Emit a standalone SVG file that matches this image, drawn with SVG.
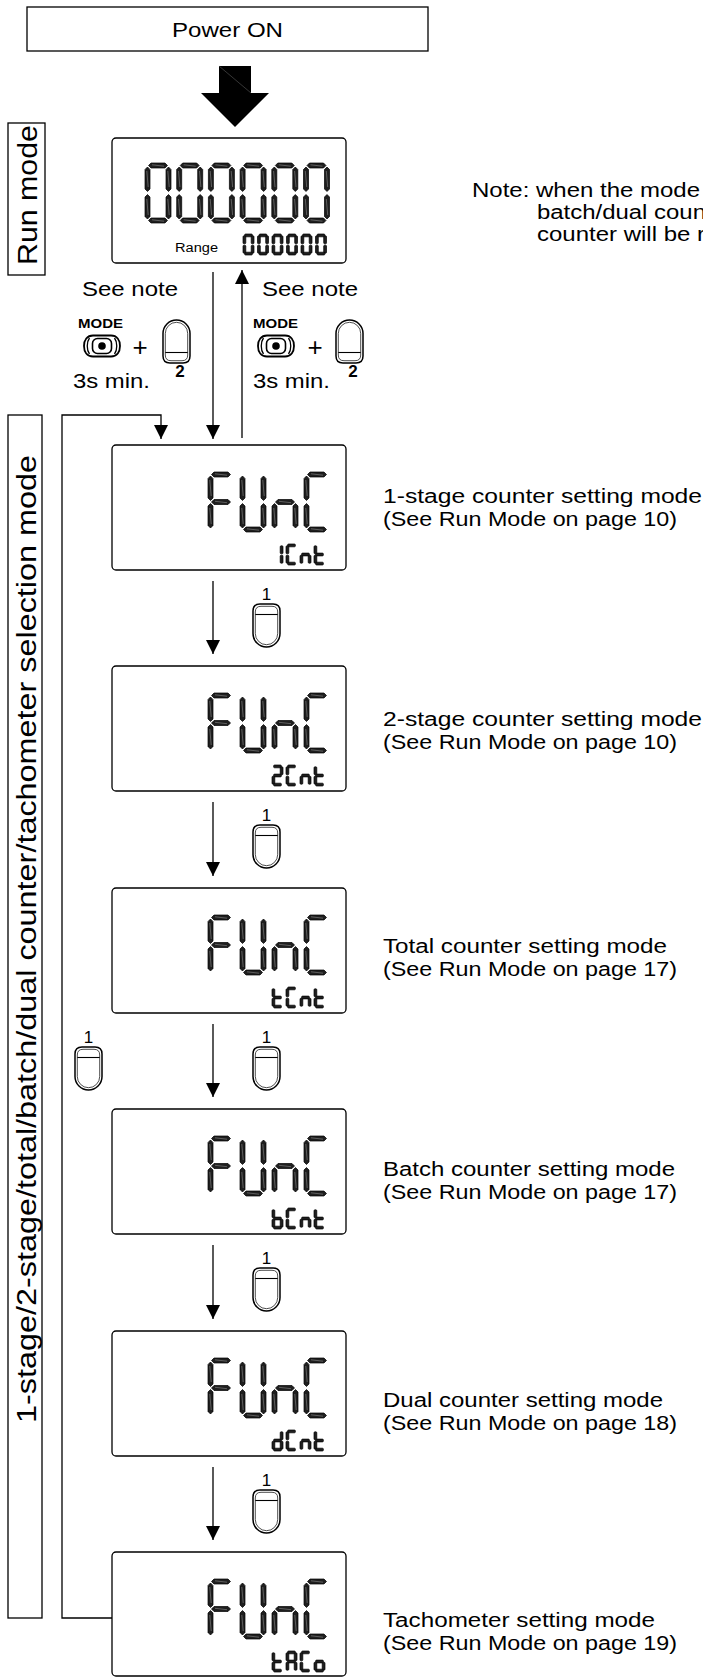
<svg xmlns="http://www.w3.org/2000/svg" width="703" height="1677" viewBox="0 0 703 1677">
<style>
 text{font-family:"Liberation Sans",Arial,sans-serif;fill:#000}
 .t20{font-size:20px}
 .box{fill:#fff;stroke:#000;stroke-width:1.3}
 .lcd{fill:#fff;stroke:#000;stroke-width:1.3}
 .seg{fill:#1f1f1f;stroke:#000;stroke-width:0.7;stroke-linejoin:round}
 .hl{fill:none;stroke:#8a8a8a;stroke-width:0.6}
 .con{fill:none;stroke:#000;stroke-width:1.3}
 .arr{fill:none;stroke:#000;stroke-width:1.3;marker-end:url(#ah)}
 .key{fill:#fff;stroke:#000;stroke-width:1.5}
 .keyin{fill:none;stroke:#000;stroke-width:0.7}
 .num{font-size:17px;text-anchor:middle}
 .b2{font-size:17px;font-weight:bold;text-anchor:middle}
 .mode{font-size:13px;font-weight:bold}
 .plus{font-size:26px;text-anchor:middle}
</style>
<defs>
 <marker id="ah" viewBox="0 0 14 14" refX="14" refY="7" markerWidth="14" markerHeight="14" markerUnits="userSpaceOnUse" orient="auto"><path d="M0,0 L14,7 L0,14 Z" fill="#000"/></marker>
 <g id="Ba"><polygon class="seg" points="3.5,2.5 6,0 20,0 22.5,2.5 20,5 6,5"/><line class="hl" x1="7" y1="1.8" x2="19" y2="3.2"/></g>
 <g id="Bg"><polygon class="seg" points="3.5,30 6,27.5 20,27.5 22.5,30 20,32.5 6,32.5"/><line class="hl" x1="7" y1="29.3" x2="19" y2="30.7"/></g>
 <g id="Bd"><polygon class="seg" points="3.5,57.5 6,55 20,55 22.5,57.5 20,60 6,60"/><line class="hl" x1="7" y1="56.8" x2="19" y2="58.2"/></g>
 <g id="Bf"><polygon class="seg" points="2.5,4 5,6.5 5,26 2.5,28.5 0,26 0,6.5"/><line class="hl" x1="1.8" y1="8" x2="3.2" y2="24"/></g>
 <g id="Bb"><polygon class="seg" points="23.5,4 26,6.5 26,26 23.5,28.5 21,26 21,6.5"/><line class="hl" x1="22.8" y1="8" x2="24.2" y2="24"/></g>
 <g id="Be"><polygon class="seg" points="2.5,31.5 5,34 5,53.5 2.5,56 0,53.5 0,34"/><line class="hl" x1="1.8" y1="36" x2="3.2" y2="52"/></g>
 <g id="Bc"><polygon class="seg" points="23.5,31.5 26,34 26,53.5 23.5,56 21,53.5 21,34"/><line class="hl" x1="22.8" y1="36" x2="24.2" y2="52"/></g>
 <g id="B0"><use href="#Ba"/><use href="#Bb"/><use href="#Bc"/><use href="#Bd"/><use href="#Be"/><use href="#Bf"/></g>
 <g id="BF"><use href="#Ba"/><use href="#Bf"/><use href="#Bg"/><use href="#Be"/></g>
 <g id="BU"><use href="#Bb"/><use href="#Bc"/><use href="#Bd"/><use href="#Be"/><use href="#Bf"/></g>
 <g id="Bn"><use href="#Bc"/><use href="#Be"/><use href="#Bg"/></g>
 <g id="BC"><use href="#Ba"/><use href="#Bf"/><use href="#Be"/><use href="#Bd"/></g>
 <g id="FUNC"><use href="#BF" x="0"/><use href="#BU" x="32"/><use href="#Bn" x="64"/><use href="#BC" x="96"/></g>
 <rect id="sa" class="seg" x="1.6" y="0" width="7.8" height="2.8" rx="1"/>
 <rect id="sg" class="seg" x="1.6" y="9.1" width="7.8" height="2.8" rx="1"/>
 <rect id="sd" class="seg" x="1.6" y="18.2" width="7.8" height="2.8" rx="1"/>
 <rect id="sf" class="seg" x="0" y="1.8" width="2.8" height="8" rx="1"/>
 <rect id="sb" class="seg" x="8.2" y="1.8" width="2.8" height="8" rx="1"/>
 <rect id="se" class="seg" x="0" y="11.2" width="2.8" height="8" rx="1"/>
 <rect id="sc" class="seg" x="8.2" y="11.2" width="2.8" height="8" rx="1"/>
 <g id="s0"><use href="#sa"/><use href="#sb"/><use href="#sc"/><use href="#sd"/><use href="#se"/><use href="#sf"/></g>
 <g id="s1"><use href="#sb"/><use href="#sc"/></g>
 <g id="s2"><use href="#sa"/><use href="#sb"/><use href="#sg"/><use href="#se"/><use href="#sd"/></g>
 <g id="sC"><use href="#sa"/><use href="#sf"/><use href="#se"/><use href="#sd"/></g>
 <g id="sn"><use href="#sc"/><use href="#se"/><use href="#sg"/></g>
 <g id="st"><use href="#sf"/><use href="#se"/><use href="#sg"/><use href="#sd"/></g>
 <g id="sB"><use href="#sf"/><use href="#se"/><use href="#sg"/><use href="#sc"/><use href="#sd"/></g>
 <g id="sD"><use href="#sb"/><use href="#sc"/><use href="#sg"/><use href="#se"/><use href="#sd"/></g>
 <g id="sA"><use href="#sa"/><use href="#sb"/><use href="#sc"/><use href="#se"/><use href="#sf"/><use href="#sg"/></g>
 <g id="so"><use href="#sc"/><use href="#sd"/><use href="#se"/><use href="#sg"/></g>
 <g id="Cnt"><use href="#sC" x="14"/><use href="#sn" x="28"/><use href="#st" x="42"/></g>
 <g id="key">
  <path class="key" d="M0,7 Q0,0 7,0 H20 Q27,0 27,7 V29.5 A13.5,13.5 0 0 1 0,29.5 Z"/>
  <path class="keyin" d="M2.3,8 Q2.3,2.3 8,2.3 H19 Q24.7,2.3 24.7,8 V29.5 A11.2,11.2 0 0 1 2.3,29.5 Z"/>
  <path d="M2.3,10.5 H24.7" fill="none" stroke="#000" stroke-width="1.1"/>
 </g>
 <g id="modebtn">
  <path d="M-9,-10.5 H9 C15,-10.5 18,-6 18,0 C18,6 15,10.5 9,10.5 H-9 C-15,10.5 -18,6 -18,0 C-18,-6 -15,-10.5 -9,-10.5 Z" fill="#fff" stroke="#000" stroke-width="1.8"/>
  <path d="M-12.5,-8 C-15.5,-4 -15.5,4 -12.5,8 M12.5,-8 C15.5,-4 15.5,4 12.5,8" fill="none" stroke="#000" stroke-width="1.3"/>
  <rect x="-9.5" y="-7.5" width="19" height="15" rx="5" fill="#fff" stroke="#000" stroke-width="1.6"/>
  <circle r="3.8" fill="#000"/>
 </g>
</defs>
<rect width="703" height="1677" fill="#fff"/>

<g id="power-on">
 <rect class="box" x="27" y="7" width="401" height="44"/>
 <text class="t20" x="227.5" y="37" text-anchor="middle" textLength="111" lengthAdjust="spacingAndGlyphs">Power ON</text>
</g>

<g id="run-mode-label">
 <rect class="box" x="8" y="123" width="37" height="152"/>
 <text transform="translate(37,195) rotate(-90)" text-anchor="middle" font-size="27" textLength="140" lengthAdjust="spacingAndGlyphs">Run mode</text>
</g>

<g id="selection-mode-label">
 <rect class="box" x="8" y="415" width="34" height="1203"/>
 <text transform="translate(36,1423) rotate(-90)" font-size="27" textLength="968" lengthAdjust="spacingAndGlyphs">1-stage/2-stage/total/batch/dual counter/tachometer selection mode</text>
</g>

<g id="note">
 <text class="t20" x="472" y="197" textLength="228" lengthAdjust="spacingAndGlyphs">Note: when the mode</text>
 <text class="t20" x="537" y="219" textLength="169" lengthAdjust="spacingAndGlyphs">batch/dual coun</text>
 <text class="t20" x="537" y="241" textLength="168" lengthAdjust="spacingAndGlyphs">counter will be r</text>
</g>

<g id="lcd-run">
 <rect class="lcd" x="112" y="138" width="234" height="125" rx="4"/>
 <use href="#B0" x="145" y="163"/><use href="#B0" x="176.7" y="163"/><use href="#B0" x="208.4" y="163"/><use href="#B0" x="240.1" y="163"/><use href="#B0" x="271.8" y="163"/><use href="#B0" x="303.5" y="163"/>
 <text x="175" y="252" font-size="12.5" textLength="43" lengthAdjust="spacingAndGlyphs">Range</text>
 <use href="#s0" x="243" y="234"/><use href="#s0" x="257.5" y="234"/><use href="#s0" x="272" y="234"/><use href="#s0" x="286.5" y="234"/><use href="#s0" x="301" y="234"/><use href="#s0" x="315.5" y="234"/>
</g>

<g id="lcd-1cnt">
 <rect class="lcd" x="112" y="445" width="234" height="125" rx="4"/>
 <use href="#FUNC" x="208" y="472"/>
 <use href="#s1" x="272" y="544"/><use href="#Cnt" x="272" y="544"/>
 <text class="t20" x="383" y="503" textLength="319" lengthAdjust="spacingAndGlyphs">1-stage counter setting mode</text>
 <text class="t20" x="383" y="526" textLength="294" lengthAdjust="spacingAndGlyphs">(See Run Mode on page 10)</text>
</g>

<g id="lcd-2cnt">
 <rect class="lcd" x="112" y="666" width="234" height="125" rx="4"/>
 <use href="#FUNC" x="208" y="693"/>
 <use href="#s2" x="272" y="765"/><use href="#Cnt" x="272" y="765"/>
 <text class="t20" x="383" y="726" textLength="319" lengthAdjust="spacingAndGlyphs">2-stage counter setting mode</text>
 <text class="t20" x="383" y="749" textLength="294" lengthAdjust="spacingAndGlyphs">(See Run Mode on page 10)</text>
</g>

<g id="lcd-tcnt">
 <rect class="lcd" x="112" y="888" width="234" height="125" rx="4"/>
 <use href="#FUNC" x="208" y="915"/>
 <use href="#st" x="272" y="987"/><use href="#Cnt" x="272" y="987"/>
 <text class="t20" x="383" y="953" textLength="284" lengthAdjust="spacingAndGlyphs">Total counter setting mode</text>
 <text class="t20" x="383" y="976" textLength="294" lengthAdjust="spacingAndGlyphs">(See Run Mode on page 17)</text>
</g>

<g id="lcd-bcnt">
 <rect class="lcd" x="112" y="1109" width="234" height="125" rx="4"/>
 <use href="#FUNC" x="208" y="1136"/>
 <use href="#sB" x="272" y="1208"/><use href="#Cnt" x="272" y="1208"/>
 <text class="t20" x="383" y="1176" textLength="292" lengthAdjust="spacingAndGlyphs">Batch counter setting mode</text>
 <text class="t20" x="383" y="1199" textLength="294" lengthAdjust="spacingAndGlyphs">(See Run Mode on page 17)</text>
</g>

<g id="lcd-dcnt">
 <rect class="lcd" x="112" y="1331" width="234" height="125" rx="4"/>
 <use href="#FUNC" x="208" y="1358"/>
 <use href="#sD" x="272" y="1430"/><use href="#Cnt" x="272" y="1430"/>
 <text class="t20" x="383" y="1407" textLength="280" lengthAdjust="spacingAndGlyphs">Dual counter setting mode</text>
 <text class="t20" x="383" y="1430" textLength="294" lengthAdjust="spacingAndGlyphs">(See Run Mode on page 18)</text>
</g>

<g id="lcd-taco">
 <rect class="lcd" x="112" y="1552" width="234" height="124" rx="4"/>
 <use href="#FUNC" x="208" y="1579"/>
 <use href="#st" x="272" y="1651"/><use href="#sA" x="286" y="1651"/><use href="#sC" x="300" y="1651"/><use href="#so" x="314" y="1651"/>
 <text class="t20" x="383" y="1627" textLength="272" lengthAdjust="spacingAndGlyphs">Tachometer setting mode</text>
 <text class="t20" x="383" y="1650" textLength="294" lengthAdjust="spacingAndGlyphs">(See Run Mode on page 19)</text>
</g>

<g id="connectors">
 <polygon points="219,66 251,66 251,93 269,93 235,127 201,93 219,93" fill="#000"/>
 <line x1="219" y1="66" x2="251" y2="93" stroke="#5a5a5a" stroke-width="0.6"/>
 <line class="arr" x1="213" y1="272" x2="213" y2="439"/>
 <line class="arr" x1="242" y1="438" x2="242" y2="270"/>
 <line class="arr" x1="213" y1="581" x2="213" y2="654"/>
 <line class="arr" x1="213" y1="802" x2="213" y2="876"/>
 <line class="arr" x1="213" y1="1024" x2="213" y2="1097"/>
 <line class="arr" x1="213" y1="1245" x2="213" y2="1319"/>
 <line class="arr" x1="213" y1="1467" x2="213" y2="1540"/>
 <polyline class="arr" points="112,1618 62,1618 62,415 161,415 161,439"/>
</g>

<g id="connector-labels">
 <text class="t20" x="82" y="296" textLength="96" lengthAdjust="spacingAndGlyphs">See note</text>
 <text class="mode" x="78" y="328" textLength="45" lengthAdjust="spacingAndGlyphs">MODE</text>
 <use href="#modebtn" x="102" y="346"/>
 <text class="plus" x="140" y="356">+</text>
 <use href="#key" transform="translate(163,363) scale(1,-1)"/>
 <text class="b2" x="180" y="377">2</text>
 <text class="t20" x="73" y="388" textLength="77" lengthAdjust="spacingAndGlyphs">3s min.</text>

 <text class="t20" x="262" y="296" textLength="96" lengthAdjust="spacingAndGlyphs">See note</text>
 <text class="mode" x="253" y="328" textLength="45" lengthAdjust="spacingAndGlyphs">MODE</text>
 <use href="#modebtn" x="276" y="346"/>
 <text class="plus" x="315" y="356">+</text>
 <use href="#key" transform="translate(336,363) scale(1,-1)"/>
 <text class="b2" x="353" y="377">2</text>
 <text class="t20" x="253" y="388" textLength="77" lengthAdjust="spacingAndGlyphs">3s min.</text>

 <text class="num" x="266.5" y="600">1</text><use href="#key" x="253" y="604"/>
 <text class="num" x="266.5" y="821">1</text><use href="#key" x="253" y="825"/>
 <text class="num" x="266.5" y="1043">1</text><use href="#key" x="253" y="1047"/>
 <text class="num" x="266.5" y="1264">1</text><use href="#key" x="253" y="1268"/>
 <text class="num" x="266.5" y="1486">1</text><use href="#key" x="253" y="1490"/>
 <text class="num" x="88.5" y="1043">1</text><use href="#key" x="75" y="1047"/>
</g>
</svg>
